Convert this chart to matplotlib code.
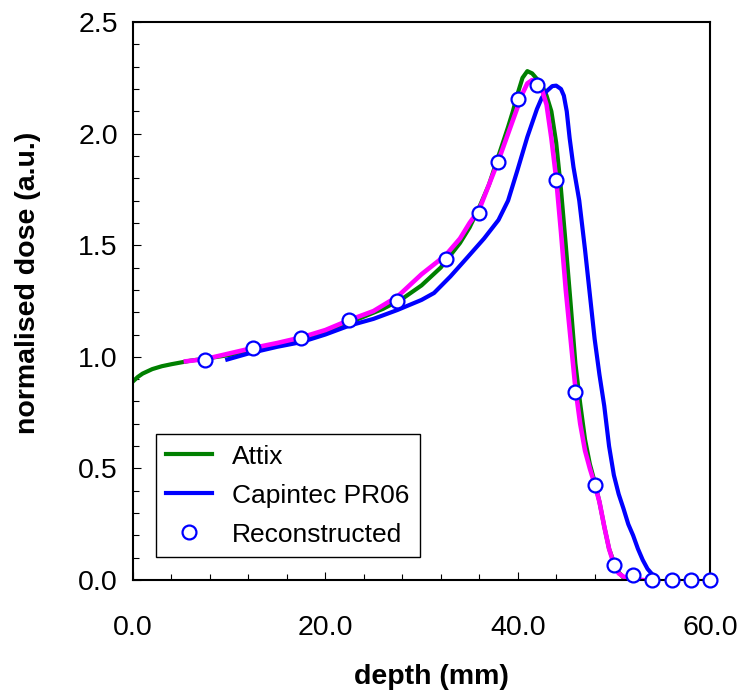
import matplotlib
matplotlib.use("Agg")
import matplotlib.pyplot as plt
from matplotlib.ticker import MultipleLocator, FormatStrFormatter

plt.rcParams['font.family'] = ['Liberation Sans', 'DejaVu Sans']

# Attix chamber (green)
attix_depth = [0, 0.5, 1, 2, 3, 4, 6, 8, 10, 12, 14, 16, 18, 20, 22, 24, 26, 28,
               30, 32, 34, 35, 36, 37, 38, 39, 39.5, 40, 40.5, 41, 41.5, 42, 42.5,
               43, 43.5, 44, 44.5, 45, 45.5, 46, 46.5, 47, 47.5, 48, 48.5, 49,
               49.5, 50, 50.5, 51, 51.5]
attix_dose = [0.89, 0.91, 0.925, 0.945, 0.958, 0.967, 0.983, 0.995, 1.008, 1.03,
              1.045, 1.065, 1.09, 1.115, 1.145, 1.18, 1.215, 1.26, 1.32, 1.40,
              1.51, 1.58, 1.67, 1.77, 1.90, 2.03, 2.10, 2.18, 2.25, 2.28, 2.27,
              2.245, 2.22, 2.17, 2.10, 1.96, 1.75, 1.50, 1.24, 0.97, 0.79, 0.63,
              0.52, 0.44, 0.35, 0.24, 0.14, 0.08, 0.035, 0.01, 0.0]

# Capintec PR06 (blue)
capintec_depth = [9.8, 12, 15, 17.5, 20, 22.5, 25, 27.5, 30, 31.3, 33, 34.8, 36.5,
                  38, 39, 40, 41, 42, 42.5, 43, 43.6, 44, 44.5, 44.8, 45.1, 45.4,
                  45.8, 46.4, 47, 47.5, 48, 48.5, 49, 49.5, 50, 50.5, 51, 51.5, 52,
                  52.5, 53, 53.5, 54, 54.5]
capintec_dose = [0.988, 1.015, 1.045, 1.066, 1.10, 1.14, 1.17, 1.21, 1.255, 1.286,
                 1.36, 1.447, 1.53, 1.613, 1.70, 1.84, 1.985, 2.11, 2.16, 2.19,
                 2.213, 2.215, 2.20, 2.17, 2.10, 1.98, 1.85, 1.70, 1.48, 1.28, 1.08,
                 0.92, 0.78, 0.60, 0.47, 0.385, 0.32, 0.25, 0.20, 0.14, 0.09, 0.05,
                 0.025, 0.0]

# reconstructed curve (magenta)
recon_depth = [5.5, 7.5, 10, 12.5, 15, 17.5, 20, 22.5, 25, 27.5, 30, 32.5, 34, 35,
               36, 37, 38, 39, 40, 40.5, 41, 41.5, 42, 42.5, 43, 43.5, 44, 44.5,
               45, 45.5, 46, 46.5, 47, 47.5, 48, 48.5, 49, 49.5, 50, 50.5, 51, 52, 53]
recon_dose = [0.98, 0.99, 1.015, 1.04, 1.062, 1.087, 1.12, 1.165, 1.205, 1.27,
              1.37, 1.455, 1.53, 1.60, 1.66, 1.77, 1.88, 2.0, 2.12, 2.18, 2.225,
              2.24, 2.23, 2.20, 2.13, 1.98, 1.80, 1.56, 1.30, 1.08, 0.86, 0.70,
              0.58, 0.50, 0.43, 0.35, 0.24, 0.14, 0.07, 0.03, 0.015, 0.005, 0.0]

# reconstructed points (circles)
pts_depth = [7.5, 12.5, 17.5, 22.5, 27.5, 32.5, 36, 38, 40, 42, 44, 46, 48, 50,
             52, 54, 56, 58, 60]
pts_dose = [0.986, 1.04, 1.084, 1.165, 1.25, 1.438, 1.644, 1.873, 2.155, 2.218,
            1.792, 0.842, 0.426, 0.067, 0.022, 0.0, 0.0, 0.0, 0.0]


def main():
    fig = plt.figure(figsize=(7.52, 6.91), dpi=100)
    ax = fig.add_axes([0.1769, 0.1606, 0.7673, 0.8075])

    ax.plot(attix_depth, attix_dose, color='#008000', lw=3, label='Attix')
    ax.plot(capintec_depth, capintec_dose, color='#0000ff', lw=3,
            label='Capintec PR06')
    ax.plot(recon_depth, recon_dose, color='#ff00ff', lw=3.3)
    ax.plot(pts_depth, pts_dose, 'o', ms=10, mfc='white', mec='#0000ff',
            mew=1.6, clip_on=False, zorder=5, label='Reconstructed')

    ax.set_xlim(0, 60)
    ax.set_ylim(0, 2.5)
    ax.xaxis.set_major_locator(MultipleLocator(20))
    ax.xaxis.set_minor_locator(MultipleLocator(4))
    ax.yaxis.set_major_locator(MultipleLocator(0.5))
    ax.yaxis.set_minor_locator(MultipleLocator(0.1))
    ax.xaxis.set_major_formatter(FormatStrFormatter('%.1f'))
    ax.yaxis.set_major_formatter(FormatStrFormatter('%.1f'))

    ax.tick_params(which='both', direction='in', top=False, right=False)
    ax.tick_params(which='major', length=5.8, width=0.8, labelsize=20.5)
    ax.tick_params(which='minor', length=4.3, width=0.8)
    ax.tick_params(axis='x', which='major', pad=25)
    ax.tick_params(axis='y', which='major', pad=11)
    for s in ax.spines.values():
        s.set_linewidth(1.5)

    ax.set_xlabel('depth (mm)', fontsize=20.5, fontweight='bold')
    ax.set_ylabel('normalised dose (a.u.)', fontsize=20.5, fontweight='bold')
    ax.xaxis.set_label_coords(0.517, -0.151)
    ax.yaxis.set_label_coords(-0.159, 0.532)

    leg = ax.legend(loc='lower left', bbox_to_anchor=(0.039, 0.041),
                    borderaxespad=0, fontsize=19, fancybox=False,
                    framealpha=1, edgecolor='black', handlelength=1.75,
                    handletextpad=0.75, borderpad=0.4, labelspacing=0.57)
    leg.get_frame().set_linewidth(1.0)

    fig.savefig('out.png', dpi=100)


if __name__ == "__main__":
    main()
